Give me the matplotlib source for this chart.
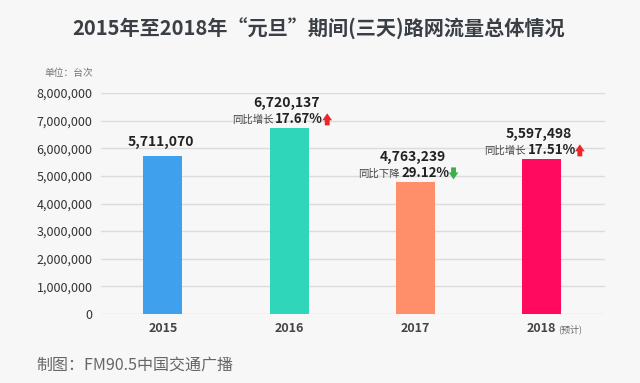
import matplotlib
matplotlib.use("Agg")
import matplotlib.pyplot as plt
from matplotlib.transforms import offset_copy

plt.rcParams['font.family'] = ['Noto Sans CJK SC', 'DejaVu Sans']

years = ['2015', '2016', '2017', '2018']
values = [5711070, 6720137, 4763239, 5597498]
changes = [None, 17.67, -29.12, 17.51]
bar_colors = ['#3fa1ee', '#2fd6b9', '#ff8f6b', '#ff0a5e']
yticks = [0, 1000000, 2000000, 3000000, 4000000, 5000000, 6000000, 7000000, 8000000]

bg = '#f7f7f7'
fig = plt.figure(figsize=(6.4, 3.83), dpi=100, facecolor=bg)
ax = fig.add_axes([101 / 640, 69 / 383, 504 / 640, 221 / 383], facecolor=bg)

x = list(range(len(years)))
ax.bar(x, values, width=0.31, color=bar_colors, zorder=3)

ax.set_xlim(-0.49, 3.5)
ax.set_ylim(0, 8000000)
ax.set_yticks(yticks)
ax.set_yticklabels([f'{v:,}' for v in yticks], fontsize=9, color='#333333')
ax.set_xticks(x)
ax.set_xticklabels(years, fontsize=9, color='#444444', fontweight='bold')
ax.tick_params(axis='both', length=0)
ax.tick_params(axis='y', pad=6)
ax.tick_params(axis='x', pad=6)
ax.grid(axis='y', color='#dcdcdc', linewidth=1, zorder=0)
for s in ax.spines.values():
    s.set_visible(False)

# (预计) after 2018
ax.annotate('(预计)', xy=(3, 0), xytext=(16, -15), textcoords='offset pixels',
            ha='left', va='center', fontsize=6.5, color='#666666')

arrow_style = 'simple,head_width=0.7,head_length=0.5,tail_width=0.35'

# labels above bars
for i, (v, c) in enumerate(zip(values, changes)):
    if c is None:
        ax.annotate(f'{v:,}', xy=(i, v), xytext=(-2, 14), textcoords='offset pixels',
                    ha='center', va='center', fontsize=10, fontweight='bold', color='#222222')
        continue
    ax.annotate(f'{v:,}', xy=(i, v), xytext=(-3, 25), textcoords='offset pixels',
                ha='center', va='center', fontsize=10, fontweight='bold', color='#222222')
    word = '同比增长' if c > 0 else '同比下降'
    ax.annotate(word, xy=(i, v), xytext=(-16, 9), textcoords='offset pixels',
                ha='right', va='center', fontsize=7.5, color='#444444')
    ax.annotate(f'{abs(c):.2f}%', xy=(i, v), xytext=(-14, 9), textcoords='offset pixels',
                ha='left', va='center', fontsize=9.5, fontweight='bold', color='#222222')
    if c > 0:
        ax.annotate('', xy=(i, v), xycoords=offset_copy(ax.transData, fig=fig, x=38, y=15, units='dots'),
                    xytext=(0, -12), textcoords='offset pixels',
                    arrowprops=dict(arrowstyle=arrow_style, color='#e8262c', lw=0, shrinkA=0, shrinkB=0))
    else:
        ax.annotate('', xy=(i, v), xycoords=offset_copy(ax.transData, fig=fig, x=38, y=3, units='dots'),
                    xytext=(0, 12), textcoords='offset pixels',
                    arrowprops=dict(arrowstyle=arrow_style, color='#3bb04a', lw=0, shrinkA=0, shrinkB=0))

fig.text(319 / 640, 1 - 29 / 383, '2015年至2018年“元旦”期间(三天)路网流量总体情况',
         ha='center', va='center', fontsize=14.5, fontweight='bold', color='#3a3f45')
fig.text(93 / 640, 1 - 73 / 383, '单位：台次', ha='right', va='center', fontsize=7, color='#777777')
fig.text(36 / 640, 1 - 365 / 383, '制图：FM90.5中国交通广播', ha='left', va='center',
         fontsize=11.5, color='#666666')

fig.savefig('out.png', dpi=100, facecolor=bg)
